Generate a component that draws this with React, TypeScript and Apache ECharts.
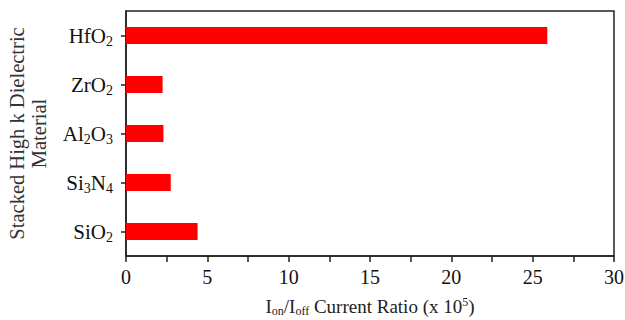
import React, { useEffect, useRef } from "react";
import * as echarts from "echarts";

// Categories from bottom to top
const categories = ["SiO2", "Si3N4", "Al2O3", "ZrO2", "HfO2"];
const ratioValues = [4.4, 2.75, 2.3, 2.25, 25.9];
const xMin = 0;
const xMax = 30;
const xInterval = 5;
const yAxisTitle = "Stacked High k Dielectric\nMaterial";

const FONT = "Liberation Serif";

function toRich(name: string): string {
  // digits become subscripts
  const parts = name.match(/(\d+|\D+)/g) || [];
  return parts
    .map((p) => (/^\d+$/.test(p) ? `{s|${p}}` : `{n|${p}}`))
    .join("");
}

export default function App() {
  const ref = useRef<HTMLDivElement>(null);
  useEffect(() => {
    if (!ref.current) return;
    const chart = echarts.init(ref.current, undefined, { renderer: "svg" });
    chart.setOption({
      animation: false,
      backgroundColor: "#ffffff",
      grid: {
        left: 126,
        right: 11,
        top: 11,
        bottom: 64,
        containLabel: false,
        outerBoundsMode: "none",
        show: true,
        borderColor: "#222",
        borderWidth: 1.5,
        backgroundColor: "transparent",
      },
      xAxis: {
        type: "value",
        min: xMin,
        max: xMax,
        interval: xInterval,
        splitLine: { show: false },
        axisLine: { show: true, lineStyle: { color: "#222", width: 1.5 } },
        axisTick: { show: true, length: 6, lineStyle: { color: "#222", width: 1.5 } },
        minorTick: { show: true, splitNumber: 2, length: 6, lineStyle: { color: "#222", width: 1.5 } },
        axisLabel: { fontFamily: FONT, fontSize: 20, color: "#111", margin: 11 },
        name: "{n|I}{s|on}{n|/I}{s|off}{n| Current Ratio (x 10}{p|5}{n|)}",
        nameLocation: "middle",
        nameGap: 38,
        nameTextStyle: {
          rich: {
            n: { fontFamily: FONT, fontSize: 19, color: "#222", lineHeight: 24 },
            s: { fontFamily: FONT, fontSize: 12, color: "#222", lineHeight: 24, padding: [10, 0, 0, 0] },
            p: { fontFamily: FONT, fontSize: 12, color: "#222", lineHeight: 24, padding: [0, 0, 9, 0] },
          },
        },
      },
      yAxis: {
        type: "category",
        data: categories,
        axisLine: { show: true, lineStyle: { color: "#222", width: 1.5 } },
        axisTick: { show: true, length: 5, alignWithLabel: true, lineStyle: { color: "#222", width: 1.5 } },
        axisLabel: {
          margin: 13,
          formatter: (v: string) => toRich(v),
          rich: {
            n: { fontFamily: FONT, fontSize: 21, color: "#111", lineHeight: 26 },
            s: { fontFamily: FONT, fontSize: 14, color: "#111", lineHeight: 26, padding: [12, 0, 0, 0] },
          },
        },
        name: yAxisTitle,
        nameLocation: "middle",
        nameGap: 76,
        nameTextStyle: { fontFamily: FONT, fontSize: 20.5, color: "#333", lineHeight: 22 },
      },
      series: [
        {
          type: "bar",
          data: ratioValues,
          barWidth: 17,
          itemStyle: { color: "#ff0000" },
        },
      ],
    });
    return () => chart.dispose();
  }, []);
  return (
    <div
      ref={ref}
      style={{ position: "fixed", left: 0, top: 0, width: 625, height: 320, background: "#fff" }}
    />
  );
}
